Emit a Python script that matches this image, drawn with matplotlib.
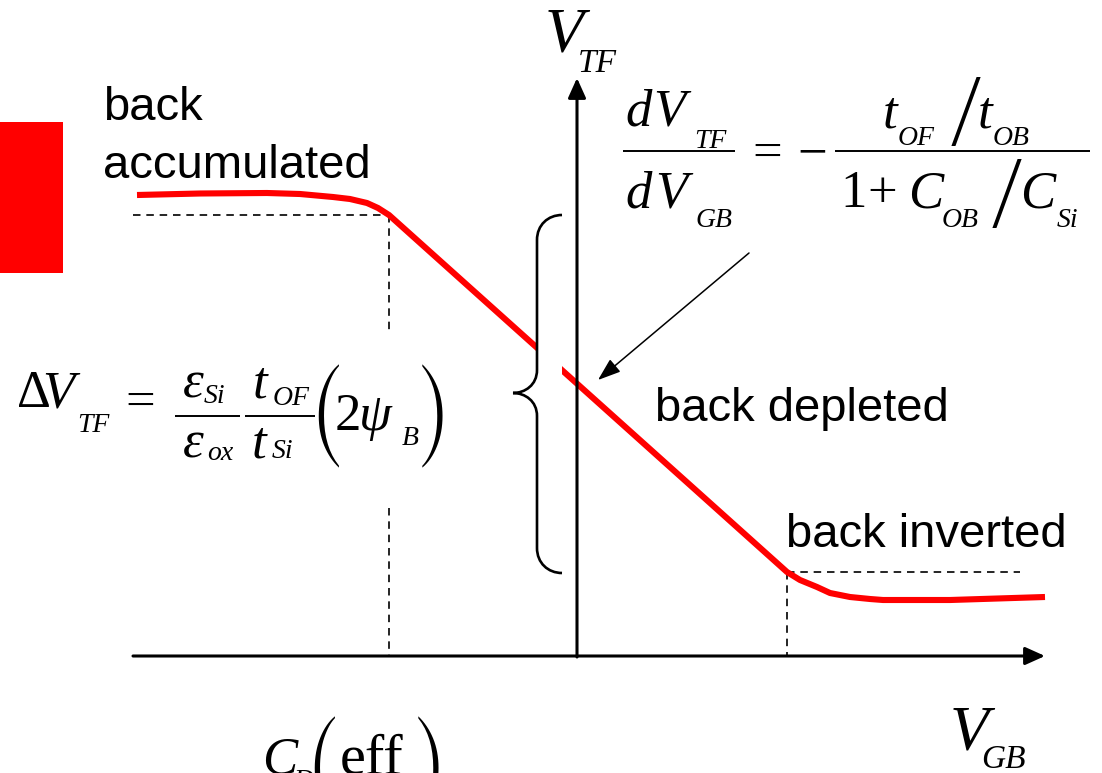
import numpy as np
import matplotlib.pyplot as plt
from matplotlib.patches import Rectangle, PathPatch
from matplotlib.path import Path

# threshold voltage of the front gate vs. back-gate voltage (arbitrary units,
# origin at the axis crossing)
v_gb = np.array([-4.40, -3.77, -3.10, -2.77, -2.44, -2.27, -2.10, -1.99, -1.88,
                 2.10, 2.23, 2.40, 2.53, 2.73, 2.93, 3.06, 3.73, 4.68])
v_tf = np.array([4.61, 4.625, 4.63, 4.62, 4.59, 4.57, 4.53, 4.48, 4.41,
                 0.84, 0.76, 0.69, 0.63, 0.59, 0.57, 0.56, 0.56, 0.59])

# corners where the back surface enters/leaves depletion
acc_edge = (-1.88, 4.41)
inv_edge = (2.10, 0.84)

plt.rcParams['font.family'] = 'Liberation Sans'

W, H = 1102, 773
fig = plt.figure(figsize=(W / 100, H / 100), dpi=100)
ax = fig.add_axes([0, 0, 1, 1])
ax.set_xlim(-5.77, 5.25)
ax.set_ylim(-1.17, 6.56)
ax.axis('off')


def at(px, py):
    # pixel position (from top-left) -> data units
    return (px - 577) / 100, (656 - py) / 100


def put(px, py, s, size=38, style='italic', family='Liberation Serif',
        va='baseline'):
    # formula piece, left anchored, Times-like serif
    x, y = at(px, py)
    ax.text(x, y, s, fontsize=size, fontstyle=style, family=family,
            ha='left', va=va, zorder=5)


def delim(px, py_mid, s, size, family='STIXSizeTwoSym'):
    # tall, thin parenthesis / slash centred on py_mid
    put(px, py_mid, s, size, 'normal', family, 'center')


def bar(px0, px1, py):
    x0, y = at(px0, py)
    x1, _ = at(px1, py)
    ax.plot([x0, x1], [y, y], color='black', lw=1.4, solid_capstyle='butt')


# curve
ax.plot(v_gb, v_tf, color='red', lw=4.4, solid_capstyle='butt', zorder=2)

# guide lines
dash = dict(color='black', lw=1.2, ls=(0, (4.5, 3.5)), zorder=1)
ax.plot([-4.44, acc_edge[0]], [acc_edge[1]] * 2, **dash)
ax.plot([acc_edge[0]] * 2, [acc_edge[1], 3.26], **dash)
ax.plot([acc_edge[0]] * 2, [1.48, 0], **dash)
ax.plot([inv_edge[0], 4.43], [inv_edge[1]] * 2, **dash)
ax.plot([inv_edge[0]] * 2, [inv_edge[1], 0], **dash)

# axes arrows
arr = dict(arrowstyle='-|>,head_length=0.6,head_width=0.27', color='black',
           lw=2.2, mutation_scale=20, shrinkA=0, shrinkB=0)
ax.annotate('', xy=(4.68, 0), xytext=(-4.44, 0), arrowprops=arr, zorder=4)
ax.annotate('', xy=(0, 5.78), xytext=(0, -0.01), arrowprops=arr, zorder=4)

# brace with white backing over the curve
ax.add_patch(Rectangle((-0.40, 0.83), 0.25, 3.58, facecolor='white',
                       edgecolor='none', zorder=3))
brace_verts = [(-0.15, 4.41), (-0.29, 4.41), (-0.40, 4.31), (-0.40, 4.16),
               (-0.40, 2.86),
               (-0.40, 2.71), (-0.52, 2.63), (-0.64, 2.63),
               (-0.52, 2.63), (-0.40, 2.55), (-0.40, 2.40),
               (-0.40, 1.08),
               (-0.40, 0.93), (-0.29, 0.83), (-0.15, 0.83)]
brace_codes = ([Path.MOVETO] + [Path.CURVE4] * 3 + [Path.LINETO]
               + [Path.CURVE4] * 6 + [Path.LINETO] + [Path.CURVE4] * 3)
ax.add_patch(PathPatch(Path(brace_verts, brace_codes), facecolor='none',
                       edgecolor='black', lw=1.9, zorder=3.5))

# pointer to the slope
ax.annotate('', xy=(0.21, 2.76), xytext=(1.72, 4.03),
            arrowprops=dict(arrowstyle='-|>,head_length=0.7,head_width=0.25',
                            color='black', lw=1.1, mutation_scale=20,
                            shrinkA=0, shrinkB=0))

# red tab
ax.add_patch(Rectangle((-5.77, 3.83), 0.63, 1.51, facecolor='red',
                       edgecolor='none'))

# region labels
lab = dict(fontsize=34, color='black', ha='left', va='baseline')
ax.text(-4.74, 5.36, 'back', **lab)
ax.text(-4.74, 4.78, 'accumulated', **lab)
ax.text(0.78, 2.35, 'back depleted', **lab)
ax.text(2.09, 1.09, 'back inverted', **lab)

# axis labels
put(545, 52, 'V', 46)
put(578, 72, 'TF', 24)
put(950, 750, 'V', 46)
put(981, 768, 'GB', 24)

# C_D(eff), sitting on the bottom edge
put(262, 773, 'C', 38)
put(293, 788, 'D', 20)
delim(306, 768, '(', 40)
put(340, 773, 'eff', 42, 'normal')
delim(412, 768, ')', 40)

# slope of the depleted region
put(625, 125, 'd')
put(653, 125, 'V')
put(694, 148, 'TF', 20)
bar(623, 735, 151)
put(625, 208, 'd')
put(655, 208, 'V')
put(695, 227, 'GB', 20)
put(752, 168, '=', 38, 'normal')
put(797, 168, '\u2212', 38, 'normal')
bar(835, 1090, 151)
put(883, 127, 't')
put(898, 145, 'OF', 20)
delim(950, 111, '/', 40, 'STIXSizeOneSym')
put(978, 127, 't')
put(993, 145, 'OB', 20)
put(840, 207, '1', 38, 'normal')
put(867, 207, '+', 38, 'normal')
put(908, 207, 'C')
put(942, 227, 'OB', 20)
delim(991, 193, '/', 40, 'STIXSizeOneSym')
put(1020, 207, 'C')
put(1057, 227, 'Si', 20)

# threshold shift across depletion
put(17, 407, '\u0394', 38, 'normal')
put(42, 407, 'V')
put(77, 432, 'TF', 20)
put(125, 417, '=', 38, 'normal')
bar(175, 240, 416)
put(183, 398, '\u03b5')
put(204, 403, 'Si', 20)
put(183, 457, '\u03b5')
put(207, 460, 'ox', 20)
bar(245, 315, 416)
put(253, 398, 't')
put(273, 405, 'OF', 20)
put(252, 458, 't')
put(272, 458, 'Si', 20)
delim(310, 416, '(', 40)
put(335, 430, '2', 38, 'normal')
put(359, 430, '\u03c8')
put(402, 445, 'B', 20)
delim(416, 416, ')', 40)

fig.savefig('out.png', dpi=100)
